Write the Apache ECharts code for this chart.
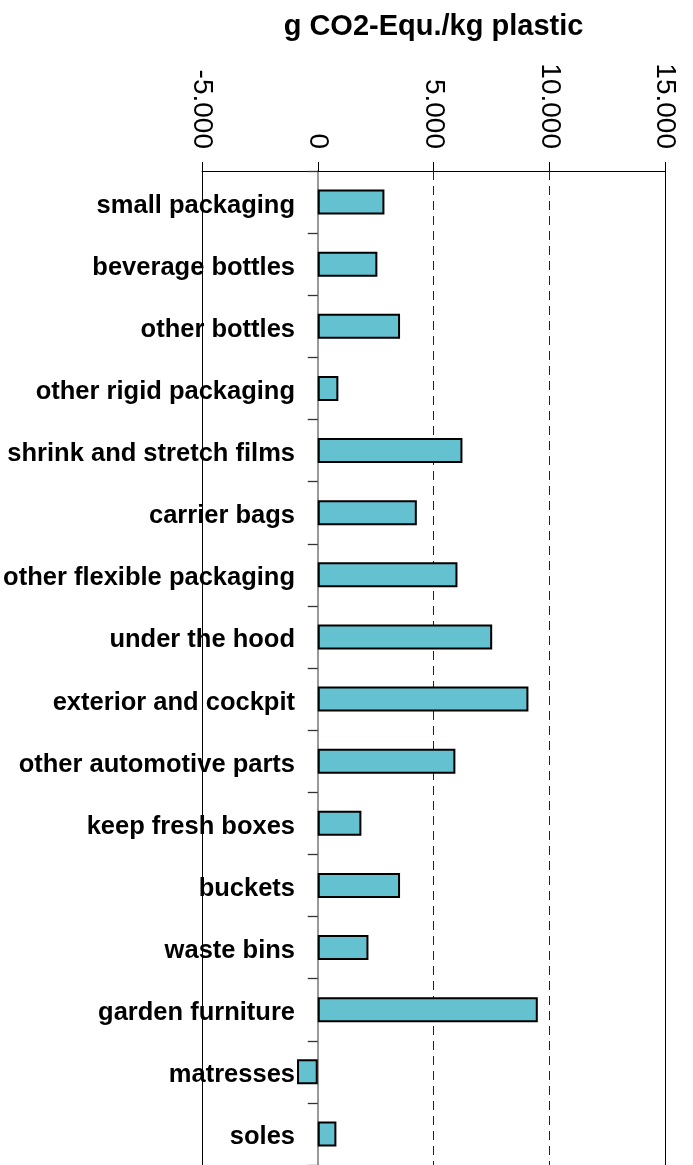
<!DOCTYPE html>
<html><head><meta charset="utf-8">
<script src="https://cdn.jsdelivr.net/npm/echarts@6/dist/echarts.min.js"></script>
<style>html,body{margin:0;padding:0;background:#fff}#c{width:693px;height:1165px}</style>
</head><body><div id="c"></div>
<script>
const categories = ["small packaging","beverage bottles","other bottles","other rigid packaging","shrink and stretch films","carrier bags","other flexible packaging","under the hood","exterior and cockpit","other automotive parts","keep fresh boxes","buckets","waste bins","garden furniture","matresses","soles"];
const values = [2880,2575,3555,890,6250,4280,6035,7535,9100,5945,1885,3555,2190,9505,-895,805];
const tickValues = [-5000,0,5000,10000,15000];
const tickLabels = ["-5.000","0","5.000","10.000","15.000"];
const solidLines = [-5000,15000];
const dashedLines = [5000,10000];
const titleText = "g CO2-Equ./kg plastic";

const chart = echarts.init(document.getElementById('c'), null, {renderer:'canvas'});
const font = 'Liberation Sans, Arial, sans-serif';
chart.setOption({
  animation:false,
  backgroundColor:'#fff',
  grid:{left:202, right:28, top:171, bottom:0, containLabel:false, outerBoundsMode:'none'},
  xAxis:{
    type:'value', position:'top', min:-5000, max:15000, interval:5000,
    name:titleText, nameLocation:'middle', nameGap:130,
    nameTextStyle:{fontFamily:font, fontWeight:'bold', fontSize:29, color:'#000'},
    axisLine:{show:true, lineStyle:{color:'#000', width:1}},
    axisTick:{show:true, length:9, lineStyle:{color:'#000', width:1}},
    splitLine:{show:false},
    axisLabel:{rotate:90, margin:22, fontFamily:font, fontSize:28, color:'#000',
      formatter:function(v){const i=tickValues.indexOf(v);return i>=0?tickLabels[i]:'';}}
  },
  yAxis:{
    type:'category', data:categories, inverse:true,
    axisLine:{show:true, onZero:true, lineStyle:{color:'#777', width:1.5}},
    axisTick:{show:true, length:10, lineStyle:{color:'#333', width:1.3}},
    axisLabel:{margin:-93, fontFamily:font, fontWeight:'bold', fontSize:25.5, color:'#000',
      formatter:function(v){return '{a|'+v+'}';},
      rich:{a:{fontFamily:font, fontWeight:'bold', fontSize:25.5, color:'#000', padding:[7,0,0,0]}}},
    splitLine:{show:false}
  },
  series:[{
    type:'bar', data:values, barWidth:25,
    itemStyle:{color:'#64C1D0', borderColor:'#000', borderWidth:2},
    z:3,
    markLine:{
      silent:true, symbol:'none', label:{show:false}, z:1,
      data: solidLines.map(v=>({xAxis:v, lineStyle:{type:'solid', color:'#000', width:1}}))
        .concat(dashedLines.map(v=>({xAxis:v, lineStyle:{type:[9,6], color:'#222', width:1}})))
    }
  }]
});
</script></body></html>
